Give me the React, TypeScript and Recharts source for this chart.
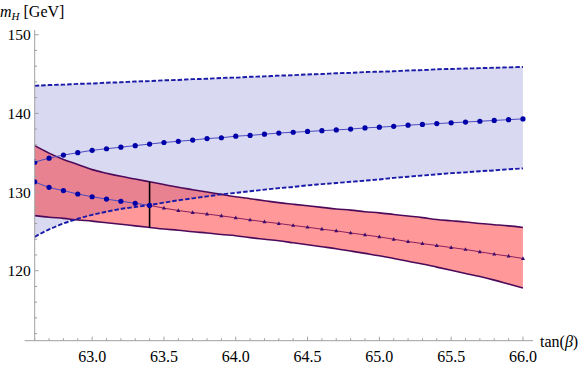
import React from 'react';
import { ComposedChart, Area, Line, XAxis, YAxis, ReferenceLine } from 'recharts';

// tan(beta) sample points
const tanBeta = [62.6, 62.7, 62.8, 62.9, 63.0, 63.1, 63.2, 63.3, 63.4, 63.5, 63.6, 63.7, 63.8, 63.9, 64.0, 64.1, 64.2, 64.3, 64.4, 64.5, 64.6, 64.7, 64.8, 64.9, 65.0, 65.1, 65.2, 65.3, 65.4, 65.5, 65.6, 65.7, 65.8, 65.9, 66.0];

// blue band (dashed edges)
const blueUpper = [143.5, 143.6, 143.65, 143.75, 143.8, 143.9, 143.95, 144.05, 144.1, 144.2, 144.25, 144.35, 144.4, 144.5, 144.55, 144.65, 144.7, 144.8, 144.85, 144.95, 145.0, 145.1, 145.15, 145.25, 145.3, 145.35, 145.45, 145.5, 145.6, 145.65, 145.7, 145.75, 145.8, 145.85, 145.9];
const blueLower = [124.3, 125.25, 126.0, 126.6, 127.1, 127.5, 127.85, 128.1, 128.35, 128.65, 128.95, 129.2, 129.45, 129.7, 129.9, 130.1, 130.3, 130.5, 130.65, 130.85, 131.0, 131.15, 131.3, 131.45, 131.6, 131.8, 131.95, 132.1, 132.25, 132.4, 132.5, 132.65, 132.75, 132.9, 133.0];

// blue dotted middle curve
const midBlue = [133.8, 134.3, 134.7, 135.0, 135.3, 135.5, 135.7, 135.9, 136.1, 136.3, 136.45, 136.6, 136.8, 136.9, 137.1, 137.2, 137.35, 137.5, 137.6, 137.7, 137.8, 137.9, 138.0, 138.15, 138.25, 138.35, 138.5, 138.6, 138.7, 138.8, 138.9, 139.0, 139.1, 139.2, 139.3];

// lower branch: circles up to the crossing, triangles after
const lowerBranch = [131.3, 130.6, 130.18, 129.75, 129.4, 129.1, 128.83, 128.57, 128.3, 127.95, 127.65, 127.4, 127.2, 126.97, 126.72, 126.45, 126.22, 126.0, 125.75, 125.53, 125.28, 125.06, 124.8, 124.55, 124.3, 124.0, 123.7, 123.45, 123.2, 122.95, 122.7, 122.4, 122.1, 121.85, 121.55];

// red band
const redUpper = [135.9, 134.95, 134.15, 133.5, 132.85, 132.4, 132.0, 131.65, 131.3, 130.95, 130.6, 130.3, 130.0, 129.7, 129.4, 129.15, 128.9, 128.65, 128.45, 128.25, 128.05, 127.85, 127.7, 127.5, 127.35, 127.15, 126.95, 126.75, 126.5, 126.35, 126.2, 126.0, 125.85, 125.7, 125.5];
const redLower = [127.0, 126.8, 126.65, 126.45, 126.3, 126.1, 125.9, 125.7, 125.5, 125.3, 125.15, 124.95, 124.8, 124.6, 124.45, 124.2, 124.0, 123.8, 123.55, 123.3, 123.05, 122.8, 122.5, 122.2, 121.9, 121.55, 121.2, 120.85, 120.45, 120.05, 119.65, 119.25, 118.8, 118.3, 117.8];

// vertical marker
const crossTan = 63.4;
const markerLow = 125.5;
const markerHigh = 131.3;

// axes
const xDomain = [62.6, 66.07];
const yDomain = [111.1, 150.6];
const xAxisStart = 62.53;
const xTicks = [62.6, 62.7, 62.8, 62.9, 63.0, 63.1, 63.2, 63.3, 63.4, 63.5, 63.6, 63.7, 63.8, 63.9, 64.0, 64.1, 64.2, 64.3, 64.4, 64.5, 64.6, 64.7, 64.8, 64.9, 65.0, 65.1, 65.2, 65.3, 65.4, 65.5, 65.6, 65.7, 65.8, 65.9, 66.0];
const yTicks = [112, 114, 116, 118, 120, 122, 124, 126, 128, 130, 132, 134, 136, 138, 140, 142, 144, 146, 148, 150];

const CROSS_INDEX = tanBeta.indexOf(crossTan);

const data = tanBeta.map((t, i) => ({
  t,
  blueBand: [blueLower[i], blueUpper[i]],
  redBand: [redLower[i], redUpper[i]],
  blueUpper: blueUpper[i],
  blueLower: blueLower[i],
  mid: midBlue[i],
  redUpper: redUpper[i],
  redLower: redLower[i],
  circ: i <= CROSS_INDEX ? lowerBranch[i] : null,
  tri: i >= CROSS_INDEX ? lowerBranch[i] : null,
}));

const FONT = 'Liberation Serif, DejaVu Serif, serif';
const textStyle = { fontFamily: FONT };
const AXIS_GRAY = '#a0a0a0';

const XTick = (props: any) => {
  const { x, y, payload } = props;
  const v = payload.value as number;
  const major = Math.abs(v * 2 - Math.round(v * 2)) < 1e-6;
  return (
    <g>
      <line x1={x} x2={x} y1={y} y2={y - (major ? 4 : 2.5)} stroke={AXIS_GRAY} strokeWidth={1} />
      {major && (
        <text x={x} y={y + 21.5} textAnchor="middle" fontSize={16} fontFamily={FONT} style={textStyle} fill="#000">
          {v.toFixed(1)}
        </text>
      )}
    </g>
  );
};

const YTick = (props: any) => {
  const { x, y, payload } = props;
  const v = payload.value as number;
  const major = v % 10 === 0;
  return (
    <g>
      <line x1={x} x2={x + (major ? 4 : 2.5)} y1={y} y2={y} stroke={AXIS_GRAY} strokeWidth={1} />
      {major && (
        <text x={x - 4} y={y + 5.5} textAnchor="end" fontSize={15.5} fontFamily={FONT} style={textStyle} fill="#000">
          {String(v)}
        </text>
      )}
    </g>
  );
};

const TriDot = (props: any) => {
  const { cx, cy, index } = props;
  if (index <= CROSS_INDEX || cy == null || cx == null) return <g key={`t${index}`} />;
  return (
    <polygon
      key={`t${index}`}
      points={`${cx},${cy - 2.3} ${cx - 2},${cy + 1.4} ${cx + 2},${cy + 1.4}`}
      fill="#3a0a6e"
    />
  );
};

export default function App() {
  return (
    <div style={{ position: 'absolute', left: 0, top: 0, width: 581, height: 367, background: '#fff', fontFamily: FONT }}>
      <ComposedChart
        width={581}
        height={367}
        data={data}
        margin={{ top: 30, right: 48, bottom: 0, left: 0 }}
        style={{ fontFamily: FONT }}
      >
        <XAxis
          dataKey="t"
          type="number"
          domain={xDomain}
          allowDataOverflow
          ticks={xTicks}
          interval={0}
          tickSize={0}
          tickMargin={0}
          height={26.3}
          tickLine={false}
          axisLine={{ stroke: AXIS_GRAY, strokeWidth: 1 }}
          tick={(p: any) => <XTick {...p} />}
        />
        <YAxis
          type="number"
          domain={yDomain}
          allowDataOverflow
          ticks={yTicks}
          interval={0}
          tickSize={0}
          tickMargin={0}
          width={34.7}
          tickLine={false}
          axisLine={{ stroke: AXIS_GRAY, strokeWidth: 1 }}
          tick={(p: any) => <YTick {...p} />}
        />
        <Area
          dataKey="blueBand"
          type="monotone"
          fill="#d9d9f2"
          fillOpacity={1}
          stroke="none"
          isAnimationActive={false}
        />
        <Area
          dataKey="redBand"
          type="monotone"
          fill="#ff0000"
          fillOpacity={0.4}
          stroke="none"
          isAnimationActive={false}
        />
        <Line dataKey="redUpper" type="monotone" stroke="#4d0a5a" strokeWidth={1.6} dot={false} isAnimationActive={false} />
        <Line dataKey="redLower" type="monotone" stroke="#4d0a5a" strokeWidth={1.6} dot={false} isAnimationActive={false} />
        <Line dataKey="blueUpper" type="monotone" stroke="#1a1aa8" strokeWidth={1.9} strokeDasharray="4.5 2" dot={false} isAnimationActive={false} />
        <Line dataKey="blueLower" type="monotone" stroke="#1a1aa8" strokeWidth={1.9} strokeDasharray="4.5 2" dot={false} isAnimationActive={false} />
        <Line
          dataKey="mid"
          type="monotone"
          stroke="#4a4ac0"
          strokeWidth={1}
          dot={{ r: 2.6, fill: '#0000a8', stroke: 'none' }}
          isAnimationActive={false}
        />
        <Line
          dataKey="circ"
          type="monotone"
          stroke="#4a4ac0"
          strokeWidth={1}
          dot={{ r: 2.6, fill: '#0000a8', stroke: 'none' }}
          isAnimationActive={false}
        />
        <Line
          dataKey="tri"
          type="monotone"
          stroke="#8a1f5e"
          strokeWidth={1}
          dot={(p: any) => <TriDot {...p} />}
          isAnimationActive={false}
        />
        <ReferenceLine
          segment={[{ x: crossTan, y: markerLow }, { x: crossTan, y: markerHigh }]}
          stroke="#000"
          strokeWidth={1.6}
          ifOverflow="visible"
        />
        <ReferenceLine
          segment={[{ x: xAxisStart, y: yDomain[0] }, { x: xDomain[0], y: yDomain[0] }]}
          stroke={AXIS_GRAY}
          strokeWidth={1}
          ifOverflow="visible"
        />
      </ComposedChart>
      <svg
        width={581}
        height={367}
        style={{ position: 'absolute', left: 0, top: 0, pointerEvents: 'none' }}
      >
        <text x={0} y={17} fontSize={16} fontFamily={FONT} style={textStyle} fill="#000">
          <tspan fontStyle="italic">m</tspan>
          <tspan fontStyle="italic" fontSize={11} dy={3}>H</tspan>
          <tspan dy={-3}> [GeV]</tspan>
        </text>
        <text x={540} y={347} fontSize={16} fontFamily={FONT} style={textStyle} fill="#000">
          <tspan>tan(</tspan>
          <tspan fontStyle="italic">β</tspan>
          <tspan>)</tspan>
        </text>
      </svg>
    </div>
  );
}
